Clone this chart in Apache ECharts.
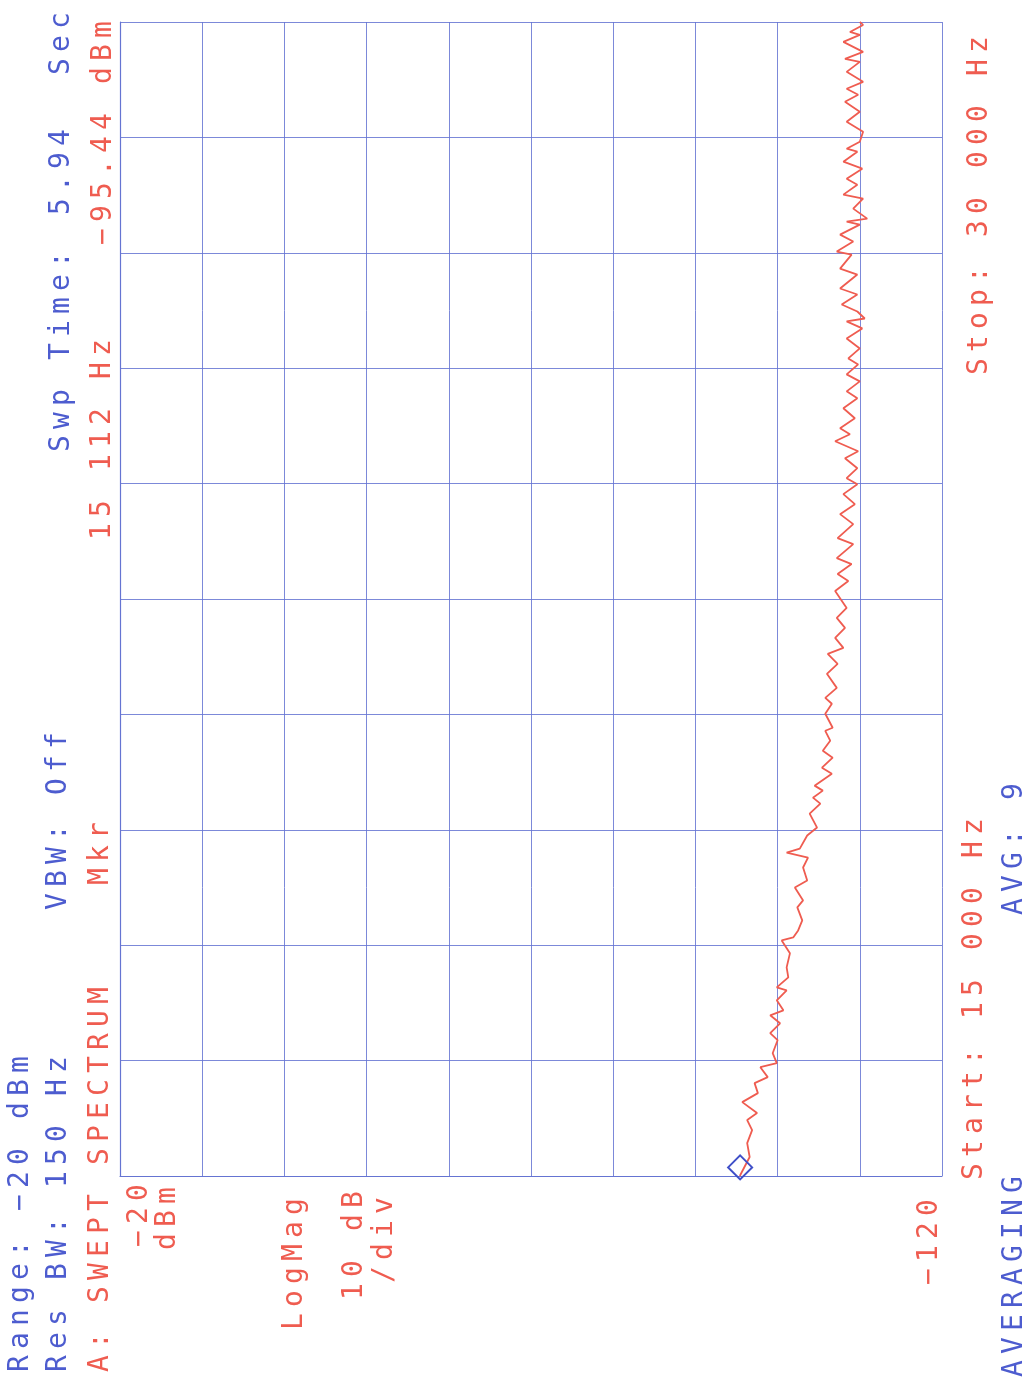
<!DOCTYPE html>
<html>
<head>
<meta charset="utf-8">
<script src="https://cdn.jsdelivr.net/npm/echarts@6/dist/echarts.min.js"></script>
<style>
html,body{margin:0;padding:0;background:#fff;}
#chart{width:1029px;height:1380px;}
</style>
</head>
<body>
<div id="chart"></div>
<script>
// ---- data ----
const freqHz = [15000,15247,15428,15597,15727,15818,15960,16077,16207,16285,
16414,16466,16596,16765,16856,16985,17089,17154,17284,17414,
17452,17582,17712,17894,18062,18101,18192,18322,18491,18582,
18750,18841,19010,19139,19204,19256,19425,19529,19710,19840,
19918,20009,20074,20229,20307,20437,20528,20658,20787,20826,
21008,21138,21215,21345,21527,21657,21786,21864,21994,22124,
22254,22384,22604,22734,22825,22954,23032,23214,23292,23473,
23603,23733,23863,23992,24070,24200,24330,24421,24550,24641,
24719,24849,24979,25108,25199,25329,25420,25549,25627,25757,
25887,26017,26108,26146,26237,26328,26458,26536,26717,26795,
26977,27016,27146,27236,27366,27405,27444,27574,27704,27756,
27885,27963,28093,28184,28314,28353,28444,28573,28703,28833,
28963,29054,29132,29222,29352,29482,29521,29612,29741,29832,
29871,29962,30000];
const levelDbm = [-95.4,-96.6,-96.3,-96.9,-96.3,-97.5,-95.7,-97.6,-97.2,-98.8,
-97.9,-99.9,-99.4,-100.0,-99.1,-100.3,-99.1,-100.7,-99.9,-101.1,
-99.9,-101.3,-101.1,-101.5,-100.5,-101.9,-102.5,-103.0,-102.4,-103.1,
-102.1,-103.6,-103.1,-103.7,-101.1,-102.7,-103.6,-104.8,-103.9,-105.2,
-104.3,-105.5,-104.5,-106.6,-105.4,-106.7,-105.5,-106.4,-105.8,-106.7,
-105.8,-106.6,-105.8,-107.2,-106.0,-107.3,-106.1,-108.0,-107.0,-108.2,
-107.2,-108.4,-107.0,-108.6,-107.3,-109.0,-107.2,-109.2,-107.3,-109.2,
-107.6,-109.4,-108.0,-109.7,-108.4,-109.7,-108.2,-109.8,-107.0,-108.8,
-107.6,-109.4,-108.0,-109.7,-108.4,-110.0,-108.4,-109.8,-108.6,-110.0,
-108.4,-110.3,-108.4,-110.6,-109.7,-107.8,-109.7,-107.6,-109.7,-107.6,
-109.0,-107.2,-109.2,-107.6,-110.0,-108.4,-110.9,-109.2,-110.4,-108.0,
-109.7,-108.4,-110.3,-108.0,-109.7,-108.4,-110.0,-110.4,-108.4,-110.0,
-108.2,-109.8,-108.4,-110.4,-108.4,-110.0,-108.2,-110.4,-108.0,-110.0,
-108.8,-110.4,-110.0];
const markerFreqHz = 15112;
const markerLevelDbm = -95.44;
const refLevelDbm = -20;
const bottomLevelDbm = -120;
const dbPerDiv = 10;
const startHz = 15000;
const stopHz = 30000;
const freqDivs = 10;

// ---- styling ----
const BLUE = '#4d5ccf';
const RED = '#ef5c50';
const GRIDC = '#6574d2';
const FONT = 'normal 28px "DejaVu Sans Mono"';
const ADV = 23;

const texts = [
  {t:'Range: −20 dBm', x:21, y:1372, c:BLUE},
  {t:'Res BW: 150 Hz', x:59, y:1372, c:BLUE},
  {t:'VBW: Off', x:59, y:910, c:BLUE},
  {t:'Swp Time:', x:62, y:452, c:BLUE},
  {t:'5.94', x:62, y:215, c:BLUE},
  {t:'Sec', x:62, y:75, c:BLUE},
  {t:'AVERAGING', x:1015, y:1377, c:BLUE},
  {t:'AVG: 9', x:1015, y:915, c:BLUE},
  {t:'A: SWEPT SPECTRUM', x:101, y:1372, c:RED},
  {t:'Mkr', x:101, y:885, c:RED},
  {t:'15 112 Hz', x:103, y:540, c:RED},
  {t:'−95.44 dBm', x:104, y:245, c:RED},
  {t:'−20', x:140, y:1247, c:RED},
  {t:'dBm', x:168, y:1250, c:RED},
  {t:'LogMag', x:295, y:1330, c:RED},
  {t:'10 dB', x:355, y:1300, c:RED},
  {t:'/div', x:385, y:1283, c:RED},
  {t:'−120', x:930, y:1285, c:RED},
  {t:'Start: 15 000 Hz', x:975, y:1180, c:RED},
  {t:'Stop: 30 000 Hz', x:980, y:375, c:RED}
];

const graphic = [];
texts.forEach(function (o) {
  const chars = Array.from(o.t);
  chars.forEach(function (ch, i) {
    if (ch === ' ') return;
    graphic.push({
      type: 'text',
      x: o.x,
      y: o.y - i * ADV,
      rotation: Math.PI / 2,
      silent: true,
      style: {
        text: ch,
        font: FONT,
        fill: o.c,
        textAlign: 'left',
        textVerticalAlign: 'middle',
        verticalAlign: 'middle'
      }
    });
  });
});

const trace = freqHz.map(function (f, i) { return [levelDbm[i], f]; });

const chart = echarts.init(document.getElementById('chart'), null, {renderer: 'canvas'});
chart.setOption({
  backgroundColor: '#ffffff',
  animation: false,
  grid: {left: 120, right: 87, top: 22, bottom: 204, containLabel: false},
  xAxis: {
    type: 'value',
    min: bottomLevelDbm,
    max: refLevelDbm,
    interval: dbPerDiv,
    inverse: true,
    axisLine: {show: true, lineStyle: {color: GRIDC, width: 1.2}},
    axisTick: {show: false},
    axisLabel: {show: false},
    splitLine: {show: true, lineStyle: {color: GRIDC, width: 1, opacity: 0.85}}
  },
  yAxis: {
    type: 'value',
    min: startHz,
    max: stopHz,
    interval: (stopHz - startHz) / freqDivs,
    axisLine: {show: true, lineStyle: {color: GRIDC, width: 1.2}},
    axisTick: {show: false},
    axisLabel: {show: false},
    splitLine: {show: true, lineStyle: {color: GRIDC, width: 1, opacity: 0.85}}
  },
  series: [{
    type: 'line',
    data: trace,
    showSymbol: false,
    lineStyle: {color: RED, width: 1.8},
    itemStyle: {color: RED},
    markPoint: {
      symbol: 'diamond',
      symbolSize: [24, 24],
      label: {show: false},
      itemStyle: {color: 'rgba(0,0,0,0)', borderColor: '#3f4fc8', borderWidth: 2},
      data: [{coord: [markerLevelDbm, markerFreqHz]}]
    }
  }],
  graphic: graphic
});
</script>
</body>
</html>
